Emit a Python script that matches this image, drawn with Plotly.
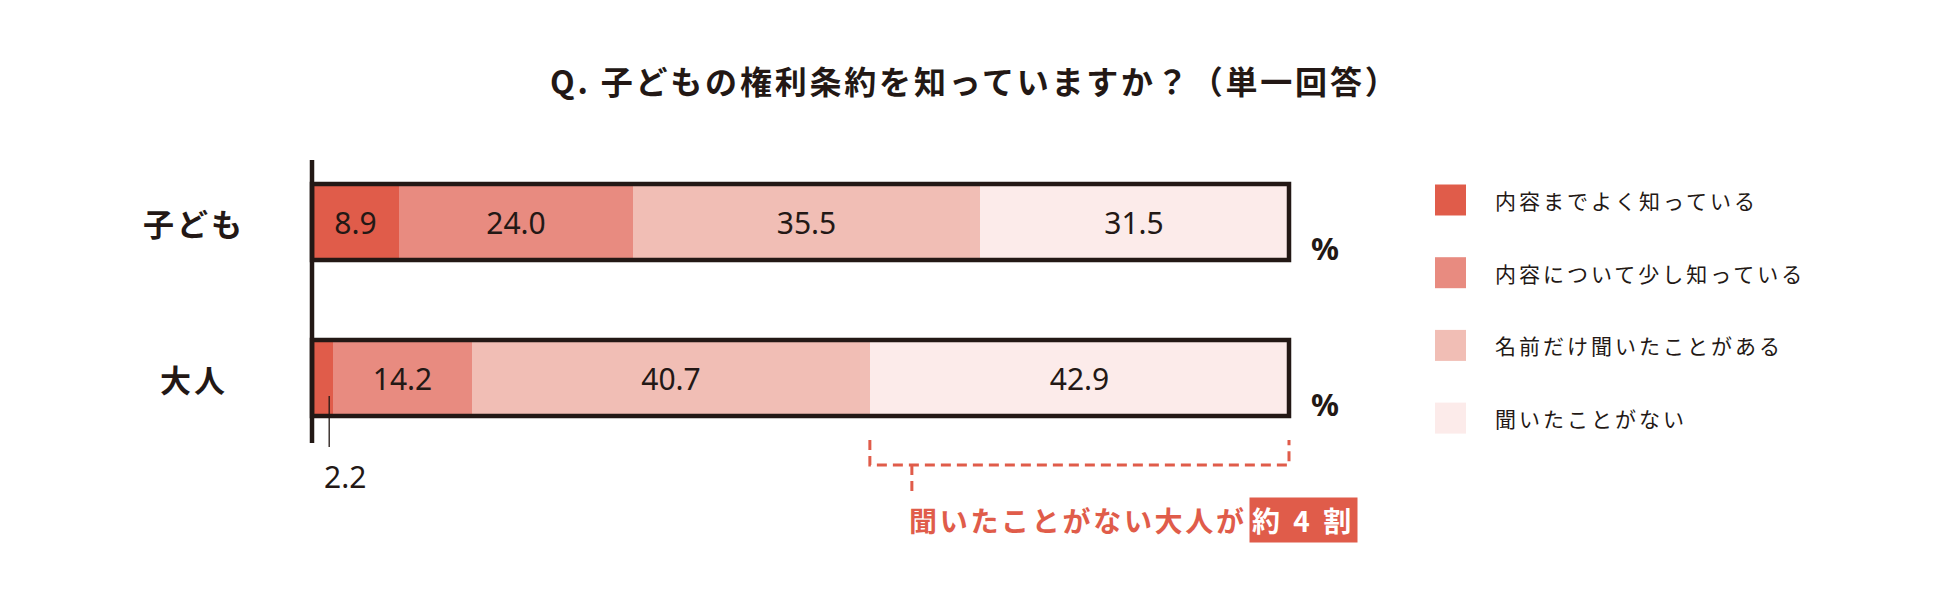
import plotly.graph_objects as go

# ---------------- data ----------------
categories = ["子ども", "大人"]
series_names = ["内容までよく知っている", "内容について少し知っている",
                "名前だけ聞いたことがある", "聞いたことがない"]
values_kodomo = [8.9, 24.0, 35.5, 31.5]
values_otona = [2.2, 14.2, 40.7, 42.9]
title_text = "Q. 子どもの権利条約を知っていますか？（単一回答）"
callout_text = "聞いたことがない大人が"
callout_box = "約 4 割"
unit_label = "%"
scale_total = 100

# ---------------- style ----------------
colors = ["#E05C4A", "#E88B80", "#F1BEB5", "#FCEBEA"]
INK = "#231815"
RED = "#E05C4A"
JP = "Noto Sans CJK JP"
NUM = "Noto Sans"

W, H = 1950, 602
X0_PX, X100_PX = 312, 1289
Y0_PX, Y1_PX = 222, 378
ppx = (X100_PX - X0_PX) / scale_total
ppy = Y1_PX - Y0_PX


def px_to_x(px):
    return (px - X0_PX) / ppx


def px_to_y(py):
    return (py - Y0_PX) / ppy


def spaced(t, sp):
    return f'<span style="letter-spacing:{sp}px">{t}</span>'


rows = [values_kodomo, values_otona]
ypos = list(range(len(categories)))
BAR_W = 0.488

fig = go.Figure()
for j, name in enumerate(series_names):
    xs = [r[j] for r in rows]
    fig.add_trace(go.Bar(
        y=ypos, x=xs, orientation="h", name=name,
        marker=dict(color=colors[j], line=dict(width=0)),
        width=BAR_W,
        text=[f"{v:.1f}" if v >= 5 else "" for v in xs],
        textposition="inside", insidetextanchor="middle", textangle=0,
        insidetextfont=dict(family=NUM, size=30, color=INK),
        constraintext="none",
        showlegend=False, hoverinfo="skip",
    ))

shapes = []
annotations = []

# vertical axis line
shapes.append(dict(type="line", xref="x", yref="y", x0=0, x1=0,
                   y0=px_to_y(160), y1=px_to_y(443),
                   line=dict(color=INK, width=4.5), layer="above"))

for i, cat in enumerate(categories):
    # bar frame
    shapes.append(dict(type="rect", xref="x", yref="y", x0=0, x1=scale_total,
                       y0=i - BAR_W / 2, y1=i + BAR_W / 2,
                       line=dict(color=INK, width=4.5), layer="above"))
    # category label
    annotations.append(dict(xref="paper", yref="y", x=194 / W, y=i,
                            xanchor="center", yanchor="middle", showarrow=False,
                            text=spaced(cat, 3),
                            font=dict(family=JP, size=31, color=INK, weight="bold")))
    # unit label
    annotations.append(dict(xref="x", yref="y", x=px_to_x(1325), y=i + 0.165,
                            xanchor="center", yanchor="middle", showarrow=False,
                            text=unit_label,
                            font=dict(family=NUM, size=31, color=INK, weight="bold")))
    # small values shown below with a leader line
    cum = 0
    for j, v in enumerate(rows[i]):
        if v < 5:
            lx = cum + v * 0.8
            shapes.append(dict(type="line", xref="x", yref="y", x0=lx, x1=lx,
                               y0=i + px_to_y(396) - 1, y1=i + px_to_y(447) - 1,
                               line=dict(color=INK, width=1.3), layer="above"))
            annotations.append(dict(xref="x", yref="y", x=lx, y=i + px_to_y(476) - 1,
                                    xanchor="left", yanchor="middle", xshift=-7,
                                    showarrow=False, text=f"{v:.1f}",
                                    font=dict(family=NUM, size=30, color=INK)))
        cum += v

# title
annotations.append(dict(xref="paper", yref="paper", x=975 / W, y=1 - 80 / H,
                        xanchor="center", yanchor="middle", showarrow=False,
                        text=spaced(title_text, 2.8),
                        font=dict(family=JP, size=32, color=INK, weight="bold")))

# legend (manual)
for j, name in enumerate(series_names):
    cy = 200 + j * 72.7
    shapes.append(dict(type="rect", xref="paper", yref="paper",
                       x0=1435 / W, x1=1466 / W,
                       y0=1 - (cy + 15.5) / H, y1=1 - (cy - 15.5) / H,
                       fillcolor=colors[j], line=dict(width=0)))
    annotations.append(dict(xref="paper", yref="paper", x=1493 / W, y=1 - cy / H,
                            xanchor="left", yanchor="middle", showarrow=False,
                            text=spaced(name, 3),
                            font=dict(family=JP, size=21, color=INK)))

# bracket around adults who have never heard of it
left = sum(values_otona[:3])
right = scale_total
y_top, y_h, y_stem = px_to_y(440), px_to_y(465), px_to_y(492)
stem_x = left + px_to_x(909) - px_to_x(867)
shapes.append(dict(type="path", xref="x", yref="y",
                   path=f"M {left},{y_top} L {left},{y_h} L {right},{y_h} L {right},{y_top}",
                   line=dict(color=RED, width=3, dash="10px,6px")))
shapes.append(dict(type="line", xref="x", yref="y", x0=stem_x, x1=stem_x,
                   y0=y_h, y1=y_stem, line=dict(color=RED, width=3, dash="10px,6px")))

annotations.append(dict(xref="x", yref="y", x=stem_x, y=px_to_y(520),
                        xanchor="left", yanchor="middle", xshift=-5, showarrow=False,
                        text=spaced(callout_text, 2.7),
                        font=dict(family=JP, size=28, color=RED, weight="bold")))
annotations.append(dict(xref="x", yref="y", x=px_to_x(1249), y=px_to_y(520),
                        xanchor="left", yanchor="middle", showarrow=False,
                        text=spaced(callout_box, 3.5),
                        bgcolor=RED, borderpad=2,
                        font=dict(family=JP, size=28, color="white", weight="bold")))

fig.update_layout(
    width=W, height=H,
    margin=dict(l=0, r=0, t=0, b=0),
    paper_bgcolor="white", plot_bgcolor="white",
    barmode="stack", bargap=0,
    xaxis=dict(range=[px_to_x(0), px_to_x(W)], visible=False, fixedrange=True),
    yaxis=dict(range=[px_to_y(H), px_to_y(0)], visible=False, fixedrange=True),
    shapes=shapes, annotations=annotations,
    showlegend=False,
)

fig.write_html("out.html", config={"displayModeBar": False},
               post_script="document.body.style.margin='0';document.body.style.overflow='hidden';")
